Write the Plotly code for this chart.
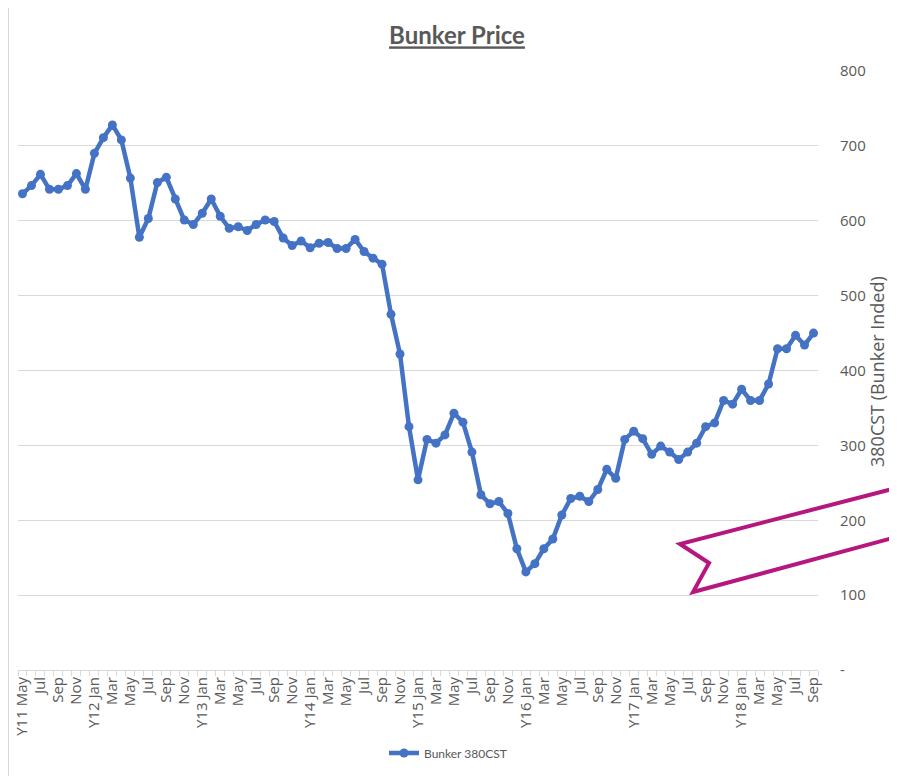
import plotly.graph_objects as go

# ---- data ----
months = ["Jan", "Feb", "Mar", "Apr", "May", "Jun", "Jul", "Aug", "Sep", "Oct", "Nov", "Dec"]
years = ["Y11", "Y12", "Y13", "Y14", "Y15", "Y16", "Y17", "Y18"]

bunker_380cst = [
    # Y11 May-Dec
    636, 647, 662, 642, 642, 647, 663, 642,
    # Y12
    690, 711, 728, 708, 657, 578, 603, 651, 658, 629, 601, 595,
    # Y13
    610, 629, 606, 590, 592, 587, 595, 601, 599, 577, 567, 573,
    # Y14
    564, 570, 571, 563, 563, 575, 559, 550, 542, 475, 422, 325,
    # Y15
    254, 308, 303, 314, 343, 331, 291, 234, 222, 225, 209, 162,
    # Y16
    131, 142, 162, 175, 207, 229, 232, 225, 241, 268, 256, 308,
    # Y17
    319, 309, 288, 299, 291, 281, 291, 303, 325, 330, 360, 355,
    # Y18 Jan-Sep
    375, 360, 360, 382, 429, 429, 447, 434, 450,
]

y_tickvals = [0, 100, 200, 300, 400, 500, 600, 700, 800]
y_ticktext = ["-", "100", "200", "300", "400", "500", "600", "700", "800"]

# category labels: Y11 May .. Y18 Sep
categories = []
for yi, yr in enumerate(years):
    for mi, m in enumerate(months):
        if yi == 0 and mi < 4:
            continue
        if yi == len(years) - 1 and mi > 8:
            continue
        categories.append(f"{yr} {m}" if (m == "Jan" or len(categories) == 0) else f"{yr}-{m}")
# tick text: every other month shown
tick_text = []
for i, c in enumerate(categories):
    if i % 2 == 0:
        tick_text.append(c if " " in c else c.split("-")[1])
    else:
        tick_text.append("")

# page has an 8px body margin, so the figure is sized/positioned to fit the 897x776 window
W, H = 881, 768
L, R, T, B = 10, 71, 63, 106
pw, ph = W - L - R, H - T - B

fig = go.Figure()
fig.add_trace(go.Scatter(
    x=categories, y=bunker_380cst, mode="lines+markers", name="Bunker 380CST",
    line=dict(color="#4472C4", width=4.5),
    marker=dict(color="#4472C4", size=9),
))

def px(x, y):
    return ((x - L) / pw, (H - B - y) / ph)

arrow_px = [(892, 479), (672, 536), (701, 555), (685, 584), (892, 528)]
pts = [px(x, y) for x, y in arrow_px]
path = "M " + " L ".join(f"{a:.4f},{b:.4f}" for a, b in pts)

ax, ay = px(882, 364)
lx, ly = px(440, 745)
bx, _ = px(0.5, 0)

fig.update_layout(
    width=W, height=H,
    margin=dict(l=L, r=R, t=T, b=B, autoexpand=False),
    paper_bgcolor="white", plot_bgcolor="white",
    title=dict(text="<b><u>Bunker Price</u></b>", xref="container", yref="container",
               x=449 / W, y=1 - 28 / H, xanchor="center", yanchor="middle",
               font=dict(family="Lato", size=24, color="#595959")),
    showlegend=True,
    legend=dict(orientation="h", x=lx, y=ly, xanchor="center", yanchor="middle",
                font=dict(family="Lato", size=12, color="#595959")),
    shapes=[
        dict(type="path", xref="paper", yref="paper", path=path,
             line=dict(color="#B5177E", width=4), fillcolor="rgba(0,0,0,0)"),
        dict(type="line", xref="paper", yref="paper", x0=bx, x1=bx,
             y0=-B / ph, y1=(H - B) / ph, line=dict(color="#d9d9d9", width=1)),
    ],
    annotations=[
        dict(text="380CST (Bunker Inded)", xref="paper", yref="paper", x=ax, y=ay,
             xanchor="right", yanchor="middle", textangle=-90, showarrow=False,
             borderpad=0,
             font=dict(family="Open Sans", size=18, color="#595959")),
    ],
)
fig.update_xaxes(
    type="category", range=[-0.5, len(categories) - 0.5], automargin=False,
    tickmode="array", tickvals=categories, ticktext=tick_text, tickangle=-90,
    tickfont=dict(family="Open Sans", size=15, color="#595959"),
    ticks="outside", ticklen=5, tickcolor="#d9d9d9", tickson="boundaries",
    showline=True, linecolor="#d9d9d9", linewidth=1, showgrid=False,
)
fig.update_yaxes(
    side="right", range=[0, 800], automargin=False,
    tickmode="array", tickvals=y_tickvals, ticktext=y_ticktext,
    tickfont=dict(family="Open Sans", size=15, color="#595959"),
    ticks="outside", ticklen=18, tickcolor="rgba(0,0,0,0)",
    showgrid=True, gridcolor="#d9d9d9", gridwidth=1, zeroline=False, showline=False,
)
fig.write_html("out.html")
